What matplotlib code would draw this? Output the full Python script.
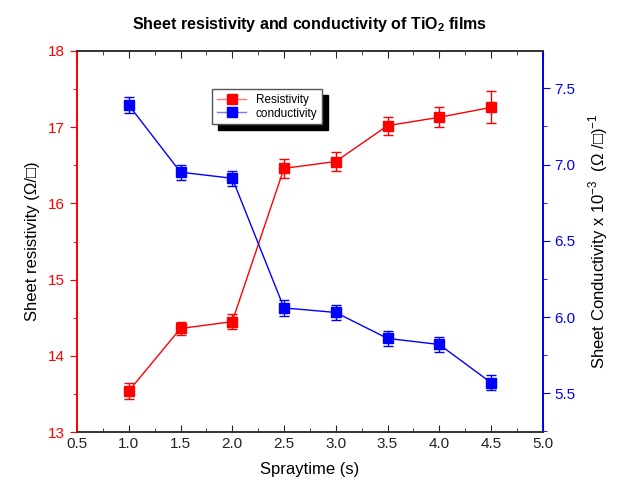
import matplotlib
matplotlib.use("Agg")
import matplotlib.pyplot as plt
from matplotlib.lines import Line2D
from matplotlib.ticker import MultipleLocator

plt.rcParams['font.family'] = ['Liberation Sans', 'DejaVu Sans']
plt.rcParams['mathtext.fontset'] = 'custom'
plt.rcParams['mathtext.rm'] = 'Liberation Sans'
plt.rcParams['mathtext.bf'] = 'Liberation Sans:bold'

spraytime = [1.0, 1.5, 2.0, 2.5, 3.0, 3.5, 4.0, 4.5]
resistivity = [13.54, 14.36, 14.45, 16.46, 16.55, 17.02, 17.13, 17.26]
resistivity_err = [0.10, 0.09, 0.10, 0.12, 0.12, 0.12, 0.13, 0.21]
conductivity = [7.39, 6.95, 6.91, 6.06, 6.03, 5.86, 5.82, 5.57]
conductivity_err = [0.05, 0.05, 0.05, 0.05, 0.05, 0.05, 0.05, 0.05]

fig = plt.figure(figsize=(6.21, 4.90), dpi=100)
ax = fig.add_axes([0.124, 0.118, 0.75, 0.778])
ax2 = ax.twinx()

red = '#ff0000'
blue = '#0000ff'

ax.errorbar(spraytime, resistivity, yerr=resistivity_err, color=red, lw=1,
            marker='s', ms=7.5, capsize=3.5, elinewidth=1, capthick=1)
ax2.errorbar(spraytime, conductivity, yerr=conductivity_err, color=blue, lw=1,
             marker='s', ms=7.5, capsize=3.5, elinewidth=1, capthick=1)

ax.set_xlim(0.5, 5.0)
ax.set_ylim(13, 18)
ax2.set_ylim(5.245, 7.745)

ax.xaxis.set_major_locator(MultipleLocator(0.5))
ax.xaxis.set_minor_locator(MultipleLocator(0.25))
ax.yaxis.set_major_locator(MultipleLocator(1))
ax.yaxis.set_minor_locator(MultipleLocator(0.5))
ax2.yaxis.set_major_locator(MultipleLocator(0.5))
ax2.yaxis.set_minor_locator(MultipleLocator(0.25))

# x ticks point inward on top and bottom, y ticks point outward
ax.tick_params(axis='x', which='both', direction='in', top=True, labelsize=11, colors='#222222')
ax.tick_params(axis='x', which='major', length=5)
ax.tick_params(axis='x', which='minor', length=3)
ax.tick_params(axis='y', which='both', direction='out', colors=red, labelsize=11)
ax.tick_params(axis='y', which='major', length=5)
ax.tick_params(axis='y', which='minor', length=3)
ax2.tick_params(axis='y', which='both', direction='out', colors=blue, labelsize=11)
ax2.tick_params(axis='y', which='major', length=5)
ax2.tick_params(axis='y', which='minor', length=3)

ax.spines['left'].set_color(red)
ax2.spines['left'].set_color(red)
ax2.spines['right'].set_color(blue)
for s in ['top', 'bottom']:
    ax.spines[s].set_color('#333333')
    ax2.spines[s].set_color('#333333')
for a in (ax, ax2):
    for s in a.spines.values():
        s.set_linewidth(1.2)

ax.set_xlabel('Spraytime (s)', fontsize=12, labelpad=8)
ax.set_ylabel('Sheet resistivity (Ω/□)', fontsize=12, labelpad=6)
ax2.set_ylabel('Sheet Conductivity x 10$^{-3}$  (Ω /□)$^{-1}$', fontsize=12, labelpad=8)
ax.set_title(r'Sheet resistivity and conductivity of TiO$_\mathbf{2}$ films',
             fontsize=11.5, fontweight='bold', pad=16)

handles = [
    Line2D([], [], color='#ff7777', lw=1, marker='s', ms=6.5, mfc=red, mec=red),
    Line2D([], [], color='#7777ff', lw=1, marker='s', ms=6.5, mfc=blue, mec=blue),
]
leg = ax2.legend(handles, ['Resistivity', 'conductivity'], loc='upper left',
                 bbox_to_anchor=(0.29, 0.90), borderaxespad=0, fontsize=8.5,
                 fancybox=False, edgecolor='#555555', framealpha=1,
                 shadow={'color': 'black', 'alpha': 1, 'ox': 4, 'oy': -4},
                 handlelength=2.5, borderpad=0.4, labelspacing=0.15)
leg.get_frame().set_linewidth(1)

fig.savefig('out.png', dpi=100)
